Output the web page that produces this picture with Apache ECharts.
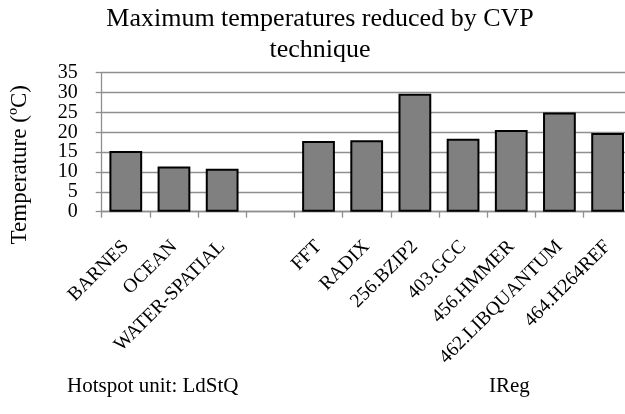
<!DOCTYPE html>
<html>
<head>
<meta charset="utf-8">
<script src="https://cdn.jsdelivr.net/npm/echarts@6/dist/echarts.min.js"></script>
<style>
html,body{margin:0;padding:0;background:#fff;overflow:hidden;width:625px;height:414px;}
#chart{width:645px;height:414px;}
</style>
</head>
<body>
<div id="chart"></div>
<script>
const categories = ['BARNES','OCEAN','WATER-SPATIAL','','FFT','RADIX','256.BZIP2','403.GCC','456.HMMER','462.LIBQUANTUM','464.H264REF'];
const values = [15.3, 11.4, 10.8, null, 17.8, 18.0, 29.7, 18.4, 20.6, 25.0, 19.8];
const yMin = 0, yMax = 35, yStep = 5;
const titleText = 'Maximum temperatures reduced by CVP\ntechnique';
const yName = 'Temperature (ºC)';
const groupLabels = ['Hotspot unit: LdStQ', 'IReg'];

const FONT = '"Liberation Serif", "Times New Roman", serif';
const chart = echarts.init(document.getElementById('chart'), null, {renderer: 'canvas'});
chart.setOption({
  backgroundColor: '#ffffff',
  animation: false,
  title: {
    text: titleText,
    left: 320,
    top: 4,
    padding: 0,
    textAlign: 'center',
    textStyle: {fontFamily: FONT, fontSize: 26, fontWeight: 'normal', color: '#000', lineHeight: 31}
  },
  grid: {left: 101.7, top: 72.7, height: 139, width: 530, containLabel: false},
  xAxis: {
    type: 'category',
    data: categories,
    boundaryGap: true,
    axisLine: {show: true, lineStyle: {color: '#8f8f8f', width: 1.3}},
    axisTick: {show: true, length: 6, alignWithLabel: false, lineStyle: {color: '#8f8f8f', width: 1.3}},
    axisLabel: {
      interval: 0, rotate: 45, margin: 32,
      fontFamily: FONT, fontSize: 19.5, color: '#000'
    }
  },
  yAxis: {
    type: 'value',
    min: yMin, max: yMax, interval: yStep,
    name: yName,
    nameLocation: 'middle',
    nameGap: 70,
    nameRotate: 90,
    nameTextStyle: {fontFamily: FONT, fontSize: 23, color: '#000', padding: [0, 45, 0, 0]},
    axisLine: {show: true, lineStyle: {color: '#8f8f8f', width: 1.3}},
    axisTick: {show: true, length: 6, lineStyle: {color: '#8f8f8f', width: 1.3}},
    axisLabel: {fontFamily: FONT, fontSize: 20, color: '#000', margin: 24, lineHeight: 20},
    splitLine: {show: true, lineStyle: {color: '#8f8f8f', width: 1.3}}
  },
  series: [{
    type: 'bar',
    data: values,
    barWidth: '68%',
    itemStyle: {color: '#808080', borderColor: '#000', borderWidth: 2}
  }],
  graphic: [
    {type: 'text', left: 67, top: 376, style: {text: groupLabels[0], font: '21px ' + FONT, fill: '#000'}},
    {type: 'text', left: 489, top: 376, style: {text: groupLabels[1], font: '21px ' + FONT, fill: '#000'}}
  ]
});
</script>
</body>
</html>
